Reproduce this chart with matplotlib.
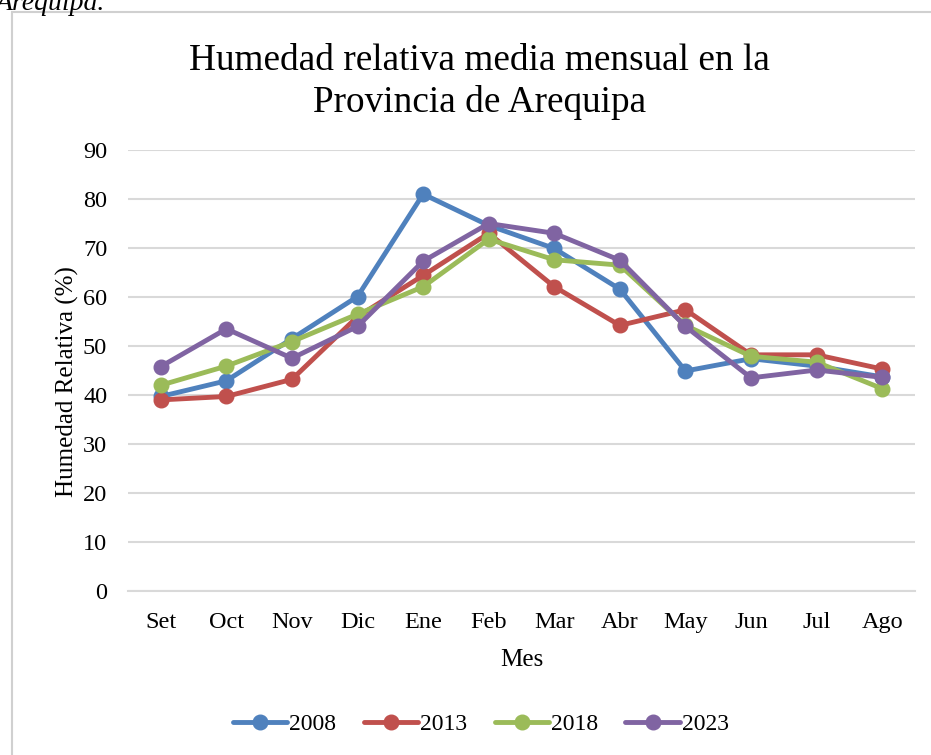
import matplotlib
matplotlib.use("Agg")
import matplotlib.pyplot as plt
from matplotlib.patches import Rectangle

# Humedad relativa media mensual (%) por año
meses = ["Set", "Oct", "Nov", "Dic", "Ene", "Feb", "Mar", "Abr", "May", "Jun", "Jul", "Ago"]
h2008 = [39.7, 42.9, 51.5, 60.1, 81.0, 74.6, 69.9, 61.6, 44.9, 47.4, 45.9, 43.7]
h2013 = [39.0, 39.7, 43.2, 56.0, 64.4, 73.0, 62.1, 54.2, 57.4, 48.2, 48.2, 45.3]
h2018 = [42.0, 45.9, 50.9, 56.5, 62.1, 71.8, 67.6, 66.5, 54.2, 47.9, 46.7, 41.3]
h2023 = [45.8, 53.5, 47.5, 54.0, 67.3, 75.0, 73.0, 67.5, 54.0, 43.5, 45.1, 43.6]
anios = ["2008", "2013", "2018", "2023"]
colores = ["#4F81BD", "#C0504D", "#9BBB59", "#8064A2"]

plt.rcParams['font.family'] = ['Liberation Serif', 'DejaVu Serif']

fig = plt.figure(figsize=(9.31, 7.55), dpi=100)
fig.patch.set_facecolor("white")

# marco del gráfico
fig.patches.append(Rectangle((12 / 931, -0.05), 1.0, 1 - 12 / 755 + 0.05,
                             transform=fig.transFigure, facecolor="white",
                             edgecolor="#d0d0d0", linewidth=1.5, zorder=-5))
fig.text(-0.005, 1 - 3 / 755, "Arequipa.", fontsize=20, style="italic", ha="left", va="center")

ax = fig.add_axes([128 / 931, 1 - 591 / 755, 787 / 931, 441 / 755])
ax.set_facecolor("none")
x = list(range(len(meses)))
for serie, anio, c in zip([h2008, h2013, h2018, h2023], anios, colores):
    ax.plot(x, serie, color=c, linewidth=3.5, marker="o", markersize=10.5,
            label=anio, solid_capstyle="round", solid_joinstyle="round")

ax.set_xlim(-0.5, 11.5)
ax.set_ylim(0, 90)
ax.set_yticks(range(0, 91, 10))
ax.set_xticks(x)
ax.set_xticklabels(meses)
ax.tick_params(length=0, labelsize=17.5)
ax.tick_params(axis="x", pad=15)
ax.tick_params(axis="y", pad=15)
ax.grid(axis="y", color="#d9d9d9", linewidth=1.5)
ax.set_axisbelow(True)
for s in ["top", "right", "left"]:
    ax.spines[s].set_visible(False)
ax.spines["bottom"].set_color("#d9d9d9")
ax.spines["bottom"].set_linewidth(1.5)

ax.set_xlabel("Mes", fontsize=18, labelpad=12)
ax.set_ylabel("Humedad Relativa (%)", fontsize=18)
ax.yaxis.set_label_coords(-0.0625, 0.476)
fig.text(0.515, 1 - 82 / 755, "Humedad relativa media mensual en la\nProvincia de Arequipa",
         fontsize=26.8, ha="center", va="center", linespacing=1.25)

ax.legend(loc="center", bbox_to_anchor=(0.4485, -0.303), ncol=4, frameon=False,
          fontsize=17, handlelength=2.3, handletextpad=0.1, columnspacing=1.15)

fig.savefig("out.png", dpi=100)
